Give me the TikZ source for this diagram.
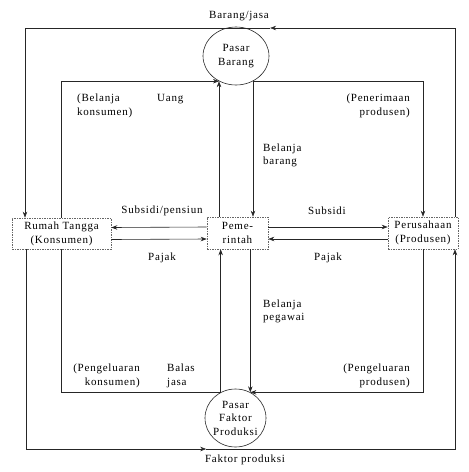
\documentclass[tikz,border=0pt]{standalone}
\usepackage{fontspec}
\setmainfont[LetterSpace=7]{Liberation Serif}
\usetikzlibrary{calc}
\usetikzlibrary{arrows.meta}
\usetikzlibrary{shapes.geometric}

\begin{document}
\begin{tikzpicture}[x=1pt, y=-1pt, >={Stealth[length=6pt,width=4.5pt]},
  font=\fontsize{11}{14}\selectfont,
  flow/.style={draw=black!85, line width=.6pt},
  box/.style={draw=black!60, dash pattern=on 1.5pt off 1pt, line width=.6pt, rectangle, inner sep=0pt, align=center, font=\fontsize{11}{14}\selectfont},
  pasar/.style={draw=black!85, line width=.6pt, ellipse, inner sep=-2pt, align=center, font=\fontsize{11}{13.5}\selectfont},
  ket/.style={inner sep=0pt}]
\useasboundingbox (0,0) rectangle (469,472);

% pasar
\node[pasar, minimum width=66pt, minimum height=58pt] (pb) at (236,56) {Pasar\\Barang};
\node[pasar, minimum width=61pt, minimum height=58pt] (pf) at (235.5,418) {Pasar\\Faktor\\Produksi};

% sektor
\node[box, minimum width=99pt, minimum height=31pt] (rt) at (61.5,233.5) {Rumah Tangga\\(Konsumen)};
\node[box, minimum width=61pt, minimum height=32pt] (pm) at (237.5,233) {Peme-\\rintah};
\node[box, minimum width=70pt, minimum height=32pt] (ps) at (423,233) {Perusahaan\\(Produsen)};

% lintasan luar
\coordinate (tl) at (25,28);
\coordinate (tr) at (455,28);
\coordinate (bl) at (26,449);
\coordinate (br) at (455,449);
\draw[flow, ->] (ps.north -| tr) -- (tr) -- ($(tl)!.57!(tr)$);
\draw[flow, ->] ($(tl)!.57!(tr)$) -- (tl) -- (rt.north -| tl);
\draw[flow, ->] (rt.south -| bl) -- (bl) -- ($(bl)!.42!(br)$);
\draw[flow, ->] ($(bl)!.42!(br)$) -- (br) -- (ps.south -| br);

% lintasan dalam
\draw[flow, ->] (rt.north) |- (pb.236);
\draw[flow, ->] (pm.north -| pb.236) -- (pb.236);
\draw[flow, ->] (pb.304) -- (pm.north -| pb.304);
\draw[flow, ->] (pb.304) -| (ps.north);
\draw[flow, ->] ([yshift=6pt]pm.west) -- ([yshift=6pt]rt.east);
\draw[flow, ->] ([yshift=-6pt]rt.east) -- ([yshift=-6pt]pm.west);
\draw[flow, ->] ([yshift=6pt]pm.east) -- ([yshift=6pt]ps.west);
\draw[flow, ->] ([yshift=-6pt]ps.west) -- ([yshift=-6pt]pm.east);
\draw[flow, ->] (rt.south) |- (pf.120) -- (pm.south -| pf.120);
\draw[flow, ->] (pm.south -| pf.60) -- (pf.60);
\draw[flow, ->] (ps.south) |- (pf.60);

% keterangan
\node[ket] (lbarang) at (239,16) {Barang/jasa};
\node[ket, anchor=west, align=left] (lbkons) at (77,106) {(Belanja\\konsumen)};
\node[ket, anchor=west] (luang) at (157,99) {Uang};
\node[ket, anchor=east, align=right] (lterima) at (410,106) {(Penerimaan\\produsen)};
\node[ket, anchor=west, align=left, font=\fontsize{11}{13}\selectfont] (lbbarang) at (263,155) {Belanja\\barang};
\node[ket] (lsubpen) at (162,211) {Subsidi/pensiun};
\node[ket] (lpajak1) at (162,258) {Pajak};
\node[ket] (lsubsidi) at (327,211) {Subsidi};
\node[ket] (lpajak2) at (328,258) {Pajak};
\node[ket, anchor=west, align=left, font=\fontsize{11}{13}\selectfont] (lbpegawai) at (263,311) {Belanja\\pegawai};
\node[ket, anchor=east, align=right] (lkeluar1) at (140,376) {(Pengeluaran\\konsumen)};
\node[ket, anchor=west, align=left] (lbalas) at (167,376) {Balas\\jasa};
\node[ket, anchor=east, align=right] (lkeluar2) at (410,376) {(Pengeluaran\\produsen)};
\node[ket] (lfaktor) at (245,460) {Faktor produksi};
\end{tikzpicture}
\end{document}
